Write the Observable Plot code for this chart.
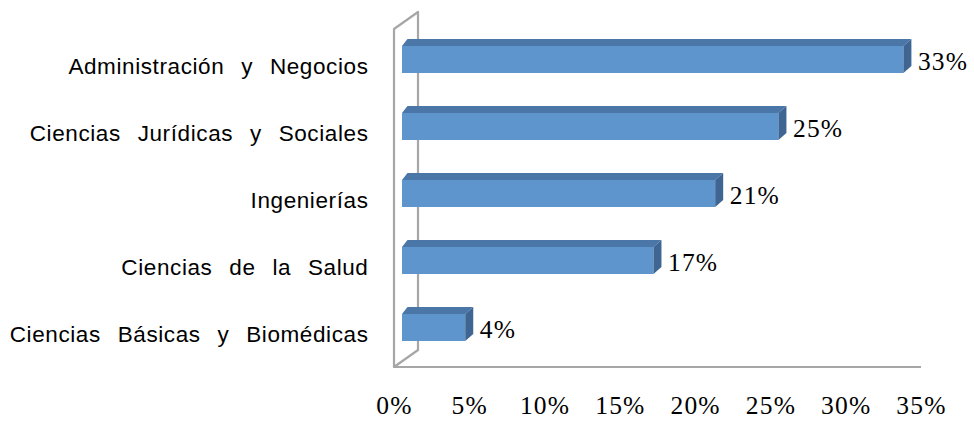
<!DOCTYPE html>
<html><head><meta charset="utf-8">
<script src="https://cdn.jsdelivr.net/npm/d3@7"></script>
<script src="https://cdn.jsdelivr.net/npm/@observablehq/plot@0.6"></script>
<style>
body{margin:0;background:#fff}
#chart svg{display:block;background:#fff}
[aria-label="y-axis tick label"], [aria-label="y-axis tick label"] text{font-family:"Liberation Sans",Arial,sans-serif;font-size:22.5px;letter-spacing:0.6px;word-spacing:10px;fill:#000}
[aria-label="text"] text{letter-spacing:1.2px}
</style></head><body><div id="chart"></div>
<script>
const categories = ["Administración y Negocios","Ciencias Jurídicas y Sociales","Ingenierías","Ciencias de la Salud","Ciencias Básicas y Biomédicas"];
const values = [33.3, 25.0, 20.8, 16.7, 4.2];
const valueLabels = ["33%","25%","21%","17%","4%"];
const xTicks = [0,5,10,15,20,25,30,35];
const data = categories.map((c,i)=>({category:c, value:values[i], label:valueLabels[i]}));

const FRONT="#5d95cc", TOP="#4a76a8", SIDE="#3f6593", WALL="#a6a6a6";
const barDX = 8, barDY = -5, depthL = 5.5, depthR = 8, depthY = 7;

function walls(index, scales, vals, dim) {
  const x = scales.x;
  const x0 = x(0), x1 = x(35);
  const top = dim.marginTop, bottom = dim.height - dim.marginBottom;
  const g = d3.create("svg:g").attr("fill","none").attr("stroke",WALL).attr("stroke-width",2.2).attr("stroke-linejoin","round");
  g.append("path").attr("d", `M${x0},${bottom}V${top}L${x0+24},${top-17}V${bottom-17}L${x0},${bottom}H${x1}`);
  return g.node();
}
function faces(index, scales, vals, dim) {
  const x = scales.x, y = scales.y, bw = y.bandwidth();
  const g = d3.create("svg:g");
  for (const d of data) {
    const xl = x(0)+barDX, xr = x(d.value)+barDX;
    const yt = y(d.category)+barDY, yb = yt + bw;
    g.append("path").attr("fill",TOP).attr("d",`M${xl},${yt}L${xl+depthL},${yt-depthY}L${xr+depthR},${yt-depthY}L${xr},${yt}Z`);
    g.append("path").attr("fill",SIDE).attr("d",`M${xr},${yt}L${xr+depthR},${yt-depthY}L${xr+depthR},${yb-depthY}L${xr},${yb}Z`);
  }
  return g.node();
}

const chart = Plot.plot({
  width: 974, height: 422,
  marginLeft: 394, marginRight: 53, marginTop: 29, marginBottom: 55,
  style: {background: "#fff", color: "#000"},
  x: {domain: [0, 35], axis: null},
  y: {domain: categories, paddingInner: 0.6, paddingOuter: 0.3},
  marks: [
    walls,
    Plot.barX(data, {x: "value", y: "category", fill: FRONT, dx: barDX, dy: barDY}),
    faces,
    Plot.text(data, {x: "value", y: "category", text: "label", dx: 22, dy: -3, textAnchor: "start", fontFamily: "Liberation Serif", fontSize: 25.5, fill: "#000"}),
    Plot.text(xTicks, {x: d => d, text: d => d + "%", frameAnchor: "bottom", dy: 46, fontFamily: "Liberation Serif", fontSize: 25.5, fill: "#000"}),
    Plot.axisY({tickSize: 0, tickPadding: 26, dy: 2, fontFamily: "Liberation Sans", fontSize: 22.5, fill: "#000", label: null})
  ]
});
document.getElementById("chart").append(chart);
</script></body></html>
